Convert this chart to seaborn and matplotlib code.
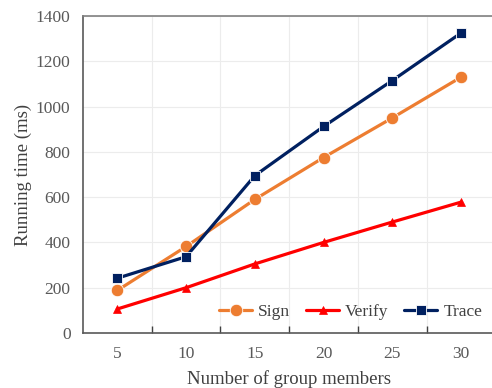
import matplotlib
matplotlib.use("Agg")
import matplotlib.pyplot as plt
import seaborn as sns
import pandas as pd
from matplotlib.ticker import FixedLocator

members = [5, 10, 15, 20, 25, 30]
sign = [188, 382, 590, 775, 950, 1130]
verify = [106, 200, 305, 400, 490, 578]
trace = [242, 337, 695, 912, 1115, 1325]
y_ticks = [0, 200, 400, 600, 800, 1000, 1200, 1400]

sns.set_theme(style="white")
plt.rcParams['font.family'] = ['Liberation Serif', 'DejaVu Serif']

fig = plt.figure(figsize=(4.92, 3.88), dpi=100)
ax = fig.add_axes([0.1687, 0.1418, 0.8383, 0.817])

series = [
    ("Sign", sign, "#ED7D31", "o", 9, "white", 0.6),
    ("Verify", verify, "#FF0000", "^", 6, "#FF0000", 0.5),
    ("Trace", trace, "#002060", "s", 6.5, "white", 0.6),
]
for name, vals, col, mk, ms, mec, mew in series:
    df = pd.DataFrame({"members": [str(m) for m in members], "time": vals})
    sns.pointplot(data=df, x="members", y="time", color=col, marker=mk,
                  markersize=ms, linewidth=2.3, ax=ax, label=name,
                  markeredgecolor=mec, markeredgewidth=mew)

ax.set_xlim(-0.5, 5.5)
ax.set_ylim(0, 1400)
ax.set_yticks(y_ticks)
ax.set_xticks(range(len(members)))
ax.set_xticklabels([str(m) for m in members])
ax.xaxis.set_minor_locator(FixedLocator([0.5, 1.5, 2.5, 3.5, 4.5]))
ax.tick_params(axis="x", which="major", length=0, pad=9.5, labelsize=12.5, labelcolor="#595959")
ax.tick_params(axis="x", which="minor", length=5, direction="in", color="#404040", width=1, top=False, bottom=True)
ax.tick_params(axis="y", length=0, labelsize=12.5, labelcolor="#595959", pad=9)

ax.grid(False)
ax.yaxis.grid(True, color="#ECECEC", linewidth=0.8)
ax.xaxis.grid(True, which="minor", color="#ECECEC", linewidth=0.8)
ax.set_axisbelow(True)

for s in ["left", "bottom"]:
    ax.spines[s].set_color("#595959")
    ax.spines[s].set_linewidth(1.2)
ax.spines["top"].set_color("#808080")
ax.spines["top"].set_linewidth(1.2)
ax.spines["right"].set_visible(False)

ax.set_xlabel("Number of group members", fontsize=13.5, color="#404040", labelpad=6)
ax.set_ylabel("Running time (ms)", fontsize=13.5, color="#404040", labelpad=3)

leg = ax.legend(loc="center right", bbox_to_anchor=(0.968, 0.066), ncol=3, frameon=False,
                fontsize=12.5, handlelength=1.9, columnspacing=0.9, handletextpad=0.35,
                borderaxespad=0, borderpad=0)
for t in leg.get_texts():
    t.set_color("#404040")

fig.savefig("out.png", dpi=100)
